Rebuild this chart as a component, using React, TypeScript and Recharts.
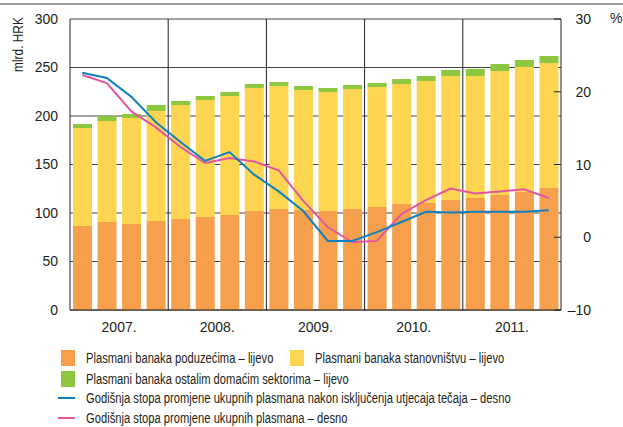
import React from "react";
import {
  ComposedChart,
  Bar,
  Line,
  XAxis,
  YAxis,
  CartesianGrid,
  ReferenceLine,
} from "recharts";

const quarters = [
  "2007 Q1", "2007 Q2", "2007 Q3", "2007 Q4",
  "2008 Q1", "2008 Q2", "2008 Q3", "2008 Q4",
  "2009 Q1", "2009 Q2", "2009 Q3", "2009 Q4",
  "2010 Q1", "2010 Q2", "2010 Q3", "2010 Q4",
  "2011 Q1", "2011 Q2", "2011 Q3", "2011 Q4",
];

const years = ["2007.", "2008.", "2009.", "2010.", "2011."];
// first quarter of each year after the first - vertical separators
const yearStarts = ["2008 Q1", "2009 Q1", "2010 Q1", "2011 Q1"];

const poduzecima = [
  86.6, 90.7, 88.7, 91.8, 93.8, 95.9, 97.9, 102, 104.1, 103,
  102, 104.1, 106.2, 109.3, 110.3, 113.4, 115.5, 118.6, 121.6, 125.8,
];
const stanovnistvu = [
  101, 104.1, 109.2, 113.4, 117.5, 120.6, 122.7, 126.9, 126.8, 123.8,
  122.7, 123.7, 123.7, 123.7, 125.8, 127.8, 125.7, 127.8, 128.9, 128.8,
];
const ostalim = [
  4.2, 5.2, 4.1, 6.1, 4.2, 4.1, 4.1, 4.1, 4.1, 4.2,
  4.2, 4.2, 4.1, 5.1, 5.1, 6.2, 7.3, 7.2, 7.2, 7.3,
];
const stopaBezTecaja = [
  22.6, 21.9, 19.3, 15.8, 13.1, 10.5, 11.7, 8.6, 6.3, 3.6,
  -0.5, -0.5, 0.7, 2.1, 3.5, 3.4, 3.5, 3.5, 3.5, 3.7,
];
const stopaUkupno = [
  22.3, 21.2, 17.3, 15.1, 12.4, 10.2, 10.9, 10.4, 9.2, 5.0,
  1.4, -0.7, -0.5, 3.2, 5.1, 6.7, 6.0, 6.3, 6.6, 5.4,
];

const leftTicks = [0, 50, 100, 150, 200, 250, 300];
const rightTicks = [-10, 0, 10, 20, 30];

const ORANGE = "#F6A04D";
const YELLOW = "#FDD550";
const GREEN = "#8DC63F";
const BLUE = "#1080C2";
const PINK = "#E2579F";
const INK = "#231F20";
const FONT = "'Liberation Sans', Arial, sans-serif";

const data = quarters.map((q, i) => ({
  q,
  poduzecima: poduzecima[i],
  stanovnistvu: stanovnistvu[i],
  ostalim: ostalim[i],
  stopaBezTecaja: stopaBezTecaja[i],
  stopaUkupno: stopaUkupno[i],
}));

// year label sits between the 2nd and 3rd quarter of its year
const YearTick = (props: any) => {
  const { x, y, payload, index } = props;
  const i = payload?.index ?? index;
  if (i % 4 !== 1) return null;
  const half = payload?.offset || 12.3;
  return (
    <text x={x + half} y={y} dy={14} textAnchor="middle" fontSize={14} fill={INK} fontFamily={FONT}>
      {years[Math.floor(i / 4)]}
    </text>
  );
};

const RightTick = (props: any) => {
  const { x, y, payload } = props;
  const v = payload.value;
  return (
    <g>
      <line x1={x - 7} x2={x} y1={y} y2={y} stroke={INK} />
      <text x={x + 30} y={y} dy={5} textAnchor="end" fontSize={14} fill={INK} fontFamily={FONT}>
        {v < 0 ? `–${Math.abs(v)}` : v}
      </text>
    </g>
  );
};

const legendItems = [
  { label: "Plasmani banaka poduzećima – lijevo", color: ORANGE, kind: "box" },
  { label: "Plasmani banaka stanovništvu – lijevo", color: YELLOW, kind: "box" },
  { label: "Plasmani banaka ostalim domaćim sektorima – lijevo", color: GREEN, kind: "box" },
  { label: "Godišnja stopa promjene ukupnih plasmana nakon isključenja utjecaja tečaja – desno", color: BLUE, kind: "line" },
  { label: "Godišnja stopa promjene ukupnih plasmana – desno", color: PINK, kind: "line" },
];

const LegendItem = ({ item, left, top }: any) => (
  <div style={{ position: "absolute", left, top, height: 18, display: "flex", alignItems: "center", whiteSpace: "nowrap" }}>
    {item.kind === "box" ? (
      <span style={{ display: "inline-block", width: 14, height: 16, background: item.color, marginLeft: 3, marginRight: 11 }} />
    ) : (
      <span style={{ display: "inline-block", width: 17, height: 2, background: item.color, marginRight: 11 }} />
    )}
    <span style={{ display: "inline-block", transform: "scaleX(0.8)", transformOrigin: "left center" }}>{item.label}</span>
  </div>
);

export default function App() {
  return (
    <div style={{ position: "absolute", left: 0, top: 0, width: 623, height: 427, background: "#fff", fontFamily: FONT, color: INK, fontSize: 14 }}>
      <div style={{ position: "absolute", left: 0, top: 3, width: 623, height: 2, background: "#9b9b9b" }} />
      <ComposedChart
        width={623}
        height={340}
        data={data}
        margin={{ top: 19, right: 0, bottom: 0, left: 0 }}
        barSize={19}
      >
        <CartesianGrid yAxisId="left" vertical={false} stroke="#444" />
        <XAxis
          dataKey="q"
          interval={0}
          tickLine={false}
          tickSize={0}
          tickMargin={8}
          axisLine={{ stroke: INK }}
          tick={<YearTick />}
          height={30}
        />
        <YAxis
          yAxisId="left"
          domain={[0, 300]}
          ticks={leftTicks}
          width={70}
          tickLine={false}
          tickSize={0}
          tickMargin={12}
          axisLine={{ stroke: INK }}
          tick={{ fill: INK, fontSize: 14, fontFamily: FONT }}
        />
        <YAxis
          yAxisId="right"
          orientation="right"
          domain={[-10, 30]}
          ticks={rightTicks}
          width={62}
          tickLine={false}
          tickSize={0}
          tickMargin={0}
          axisLine={{ stroke: INK }}
          tick={<RightTick />}
        />
        {yearStarts.map((q) => (
          <ReferenceLine key={q} x={q} position="start" yAxisId="left" stroke={INK} />
        ))}
        <Bar dataKey="poduzecima" stackId="a" yAxisId="left" fill={ORANGE} isAnimationActive={false} />
        <Bar dataKey="stanovnistvu" stackId="a" yAxisId="left" fill={YELLOW} isAnimationActive={false} />
        <Bar dataKey="ostalim" stackId="a" yAxisId="left" fill={GREEN} isAnimationActive={false} />
        <Line dataKey="stopaUkupno" yAxisId="right" stroke={PINK} strokeWidth={2} dot={false} isAnimationActive={false} />
        <Line dataKey="stopaBezTecaja" yAxisId="right" stroke={BLUE} strokeWidth={2} dot={false} isAnimationActive={false} />
      </ComposedChart>
      <div style={{ position: "absolute", left: 10, top: 72, fontSize: 14, whiteSpace: "nowrap", transform: "rotate(-90deg) scaleX(0.85)", transformOrigin: "left top" }}>
        mlrd. HRK
      </div>
      <div style={{ position: "absolute", left: 610, top: 10, fontSize: 14 }}>%</div>
      <LegendItem item={legendItems[0]} left={58} top={349} />
      <LegendItem item={legendItems[1]} left={287} top={349} />
      <LegendItem item={legendItems[2]} left={58} top={370} />
      <LegendItem item={legendItems[3]} left={58} top={389} />
      <LegendItem item={legendItems[4]} left={58} top={409} />
    </div>
  );
}
